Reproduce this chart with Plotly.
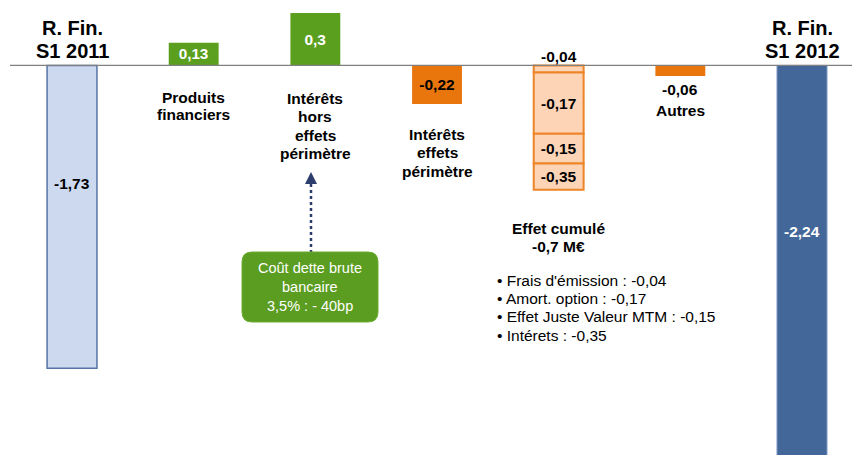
import plotly.graph_objects as go

W, H = 852, 455

# bar positions (one slot per step of the bridge)
positions = [0, 1, 2, 3, 4, 5, 6]

start_value = -1.73          # R. Fin. S1 2011
gain_values = [0.13, 0.3]    # Produits financiers, Intérêts hors effets périmètre
perim_value = -0.22          # Intérêts effets périmètre
autres_value = -0.06         # Autres
end_value = -2.24            # R. Fin. S1 2012

# stacked "effet cumulé" pieces, top to bottom, heights as drawn in the picture
cumul_values = [-0.04, -0.35, -0.17, -0.15]
cumul_labels = ["-0,04", "-0,17", "-0,15", "-0,35"]

top_labels = [["R. Fin.", "S1 2011"], ["R. Fin.", "S1 2012"]]
step_labels = [["Produits", "financiers"],
               ["Intérêts", "hors", "effets", "périmètre"],
               ["Intérêts", "effets", "périmètre"]]
cumul_title = ["Effet cumulé", "-0,7 M€"]
cumul_details = ["Frais d'émission : -0,04",
                 "Amort. option : -0,17",
                 "Effet Juste Valeur MTM : -0,15",
                 "Intérets : -0,35"]
callout_lines = ["Coût dette brute", "bancaire", "3,5% : - 40bp"]

FONT = "Liberation Sans, Arial, sans-serif"
BAR_W = 0.41


def fr(v):
    return format(v, "g").replace(".", ",")


def px(x):
    return x / W


def py(y):
    return 1 - y / H


fig = go.Figure()

fig.add_trace(go.Bar(
    x=[positions[0]], y=[start_value], width=BAR_W,
    marker=dict(color="#CCD9EF", line=dict(color="#5674A6", width=1.5)),
))

fig.add_trace(go.Bar(
    x=positions[1:3], y=gain_values, width=BAR_W,
    marker=dict(color="#5B9F1F", line=dict(width=0)),
    text=[fr(v) for v in gain_values], textposition="inside",
    insidetextanchor="middle",
    textfont=dict(family=FONT, size=15.5, color="white", weight="bold"),
))

fig.add_trace(go.Bar(
    x=[positions[3]], y=[perim_value], width=BAR_W,
    marker=dict(color="#E8760D", line=dict(width=0)),
    text=[fr(perim_value)], textposition="inside", insidetextanchor="middle",
    textfont=dict(family=FONT, size=15.5, color="black", weight="bold"),
))

for i, (v, lab) in enumerate(zip(cumul_values, cumul_labels)):
    fig.add_trace(go.Bar(
        x=[positions[4]], y=[v], width=BAR_W,
        marker=dict(color="#FDD4B6", line=dict(color="#EC8528", width=2)),
        text=[lab if i > 0 else ""], textposition="inside",
        insidetextanchor="middle",
        textfont=dict(family=FONT, size=15.5, color="black", weight="bold"),
    ))

fig.add_trace(go.Bar(
    x=[positions[5]], y=[autres_value], width=BAR_W,
    marker=dict(color="#E8760D", line=dict(width=0)),
))

fig.add_trace(go.Bar(
    x=[positions[6]], y=[end_value], width=BAR_W,
    marker=dict(color="#44679A", line=dict(color="#6C8BBD", width=1)),
))

bold = dict(family=FONT, size=15.5, color="black", weight="bold")
ann = []


def add_lines(x, y_first, lines, step, font, xref="x", xanchor="center"):
    for k, t in enumerate(lines):
        ann.append(dict(x=x, xref=xref, y=py(y_first + k * step), yref="paper",
                        text=t, font=font, showarrow=False,
                        xanchor=xanchor, yanchor="middle"))


big = dict(family=FONT, size=20, color="black", weight="bold")
add_lines(positions[0], 28, top_labels[0], 22.5, big)
add_lines(positions[6], 28, top_labels[1], 22.5, big)
add_lines(positions[1], 97, step_labels[0], 17.5, bold)
add_lines(positions[2], 98, step_labels[1], 18.5, bold)
add_lines(positions[3], 134, step_labels[2], 18.5, bold)
add_lines(positions[4], 56, [cumul_labels[0]], 0, bold)
add_lines(positions[5], 90, [fr(autres_value), "Autres"], 20, bold)
add_lines(positions[0], 183, [fr(start_value)], 0, bold)
add_lines(positions[6], 232, [fr(end_value)],
          0, dict(family=FONT, size=15.5, color="white", weight="bold"))
add_lines(positions[4], 228, cumul_title, 19, bold)
add_lines(px(495), 280, ["• " + t for t in cumul_details], 18.4,
          dict(family=FONT, size=15.5, color="black"), xref="paper", xanchor="left")
add_lines(px(310), 268, callout_lines, 19,
          dict(family=FONT, size=14.5, color="white"), xref="paper")

# arrow head of the dotted pointer
ann.append(dict(x=px(311), y=py(172), xref="paper", yref="paper",
                ax=0, ay=14, showarrow=True, arrowhead=2, arrowsize=1.2,
                arrowwidth=2, arrowcolor="#2E3E6C", text=""))

# rounded callout box
x0, x1, y0, y1, r = 242, 378, 252, 322, 10
box_path = (
    f"M {px(x0 + r)},{py(y0)} L {px(x1 - r)},{py(y0)} "
    f"Q {px(x1)},{py(y0)} {px(x1)},{py(y0 + r)} "
    f"L {px(x1)},{py(y1 - r)} Q {px(x1)},{py(y1)} {px(x1 - r)},{py(y1)} "
    f"L {px(x0 + r)},{py(y1)} Q {px(x0)},{py(y1)} {px(x0)},{py(y1 - r)} "
    f"L {px(x0)},{py(y0 + r)} Q {px(x0)},{py(y0)} {px(x0 + r)},{py(y0)} Z"
)

shapes = [
    dict(type="line", xref="paper", yref="y", x0=px(10), x1=1, y0=0, y1=0,
         line=dict(color="#808080", width=1.3), layer="above"),
    dict(type="line", xref="paper", yref="paper", x0=px(311), x1=px(311),
         y0=py(184), y1=py(252), line=dict(color="#2E3E6C", width=2.5, dash="dot")),
    dict(type="path", xref="paper", yref="paper", path=box_path,
         fillcolor="#5A9D21", line=dict(color="#6DAE32", width=1)),
]

fig.update_layout(
    width=W, height=H,
    margin=dict(l=0, r=0, t=0, b=0),
    barmode="relative",
    showlegend=False,
    plot_bgcolor="white", paper_bgcolor="white",
    xaxis=dict(range=[-0.592, 6.411], visible=False, fixedrange=True),
    yaxis=dict(range=[-2.226, 0.374], visible=False, fixedrange=True),
    annotations=ann,
    shapes=shapes,
    font=dict(family=FONT),
)

fig.write_html("out.html", config={"displayModeBar": False},
               post_script="document.body.style.margin='0';")
